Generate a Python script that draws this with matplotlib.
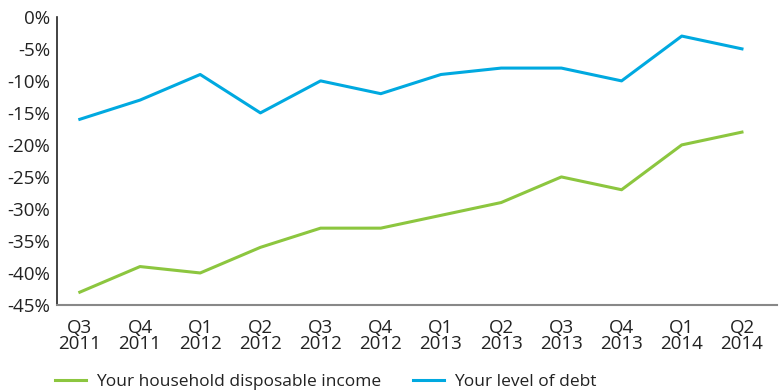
import matplotlib
matplotlib.use("Agg")
import matplotlib.pyplot as plt
from matplotlib.ticker import FuncFormatter

categories = ["Q3\n2011", "Q4\n2011", "Q1\n2012", "Q2\n2012", "Q3\n2012", "Q4\n2012",
              "Q1\n2013", "Q2\n2013", "Q3\n2013", "Q4\n2013", "Q1\n2014", "Q2\n2014"]
income = [-43, -39, -40, -36, -33, -33, -31, -29, -25, -27, -20, -18]
debt = [-16, -13, -9, -15, -10, -12, -9, -8, -8, -10, -3, -5]
yticks = [0, -5, -10, -15, -20, -25, -30, -35, -40, -45]

plt.rcParams['font.family'] = ['Open Sans', 'DejaVu Sans']
fig = plt.figure(figsize=(7.8, 3.92), dpi=100)
ax = fig.add_axes([0.073, 0.222, 0.923, 0.735])
x = list(range(len(categories)))
ax.plot(x, income, color="#8CC63F", lw=2.2, label="Your household disposable income")
ax.plot(x, debt, color="#00A9E0", lw=2.2, label="Your level of debt")
ax.set_xlim(-0.38, 11.58)
ax.set_ylim(-45, 0)
ax.set_yticks(yticks)
ax.yaxis.set_major_formatter(FuncFormatter(lambda v, p: f"{int(v)}%"))
ax.set_xticks(x)
ax.set_xticklabels(categories, linespacing=0.9)
ax.tick_params(length=0, labelsize=13.5, colors="#222222")
ax.tick_params(axis='y', pad=5)
ax.tick_params(axis='x', pad=10)
for s in ["top", "right"]:
    ax.spines[s].set_visible(False)
ax.spines["left"].set_color("#222222")
ax.spines["left"].set_linewidth(1.2)
ax.spines["bottom"].set_color("#888888")
ax.spines["bottom"].set_linewidth(1.5)
leg = fig.legend(loc="lower left", bbox_to_anchor=(0.05, -0.035), ncol=2, frameon=False,
                 fontsize=12.5, handlelength=1.8, columnspacing=1.8, handletextpad=0.6)
for t in leg.get_texts():
    t.set_color("#222222")
fig.savefig("out.png", dpi=100)
